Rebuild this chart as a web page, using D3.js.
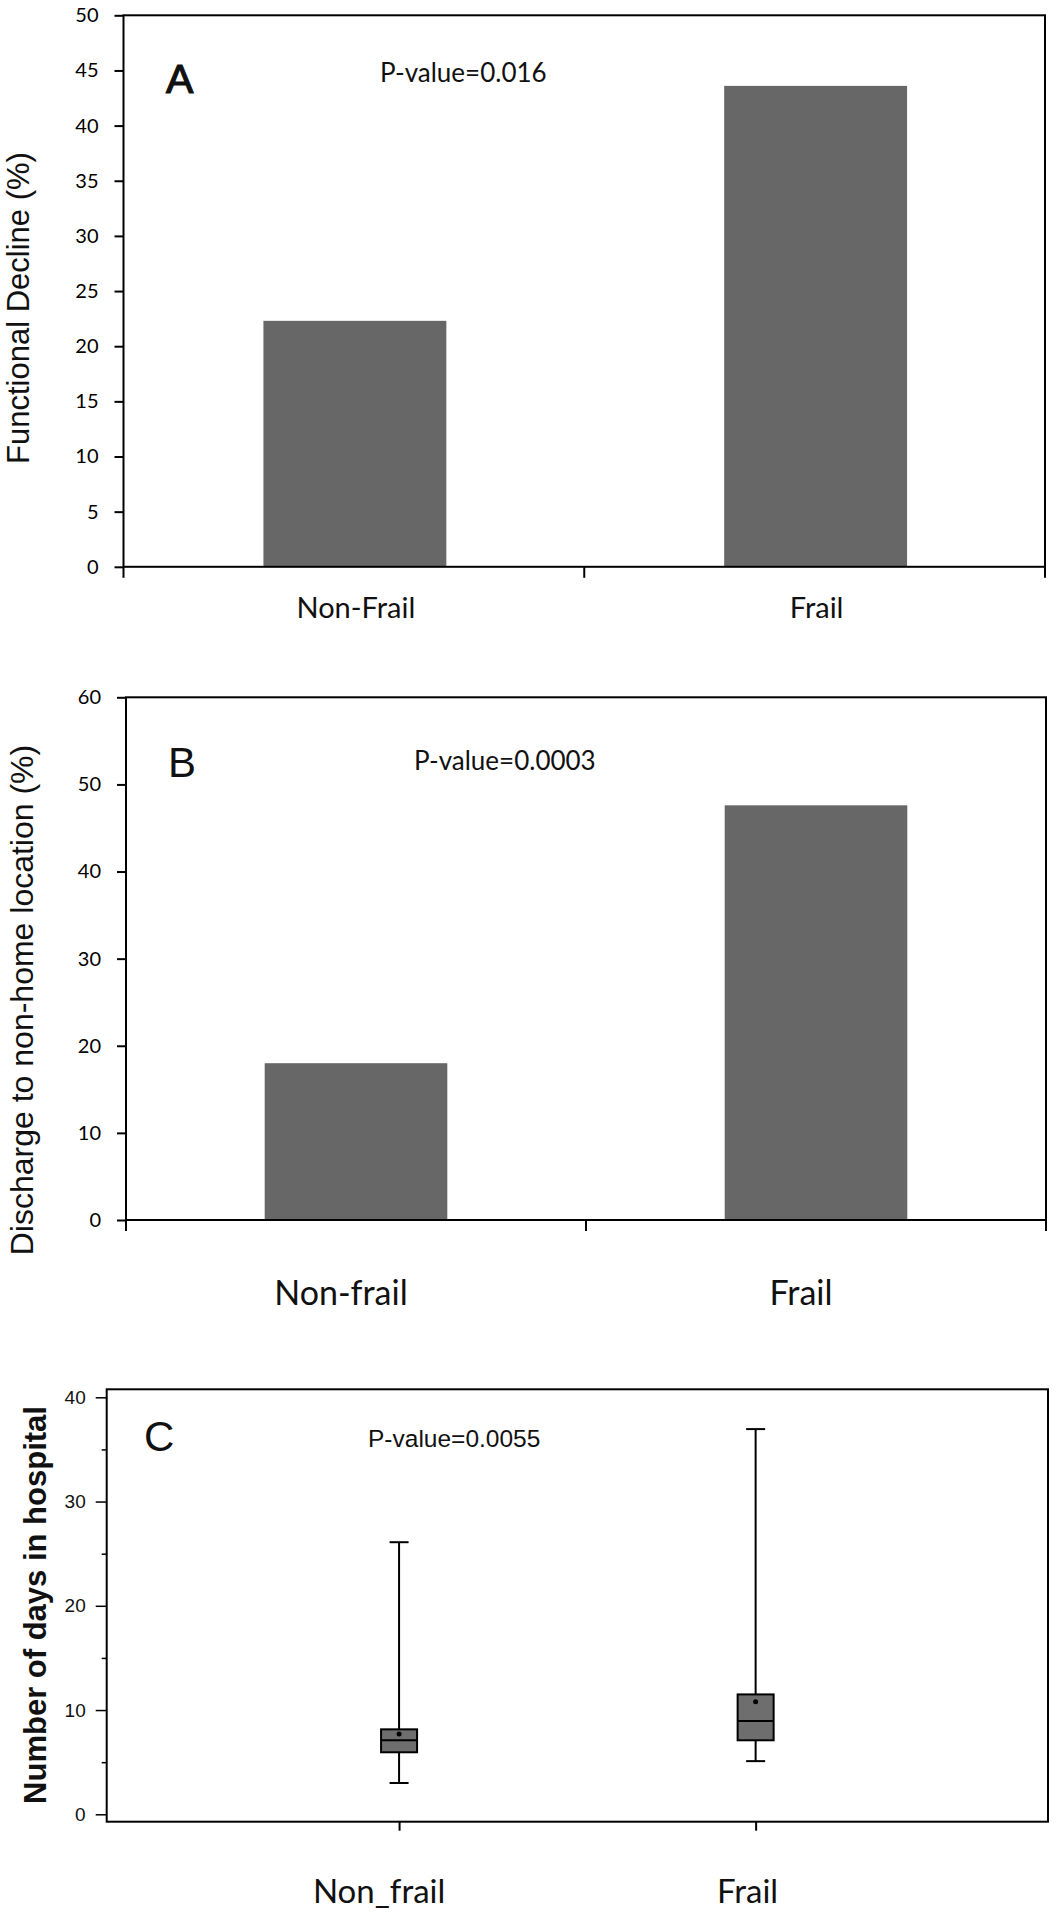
<!DOCTYPE html>
<html>
<head>
<meta charset="utf-8">
<script src="https://cdn.jsdelivr.net/npm/d3@7"></script>
<style>
  html, body { margin: 0; padding: 0; background: #fff; }
  svg { display: block; }
</style>
</head>
<body>
<svg id="chart" width="1060" height="1920"></svg>
<script>
// ---------- data ----------
const catsA = ["Non-Frail", "Frail"];
const valuesA = [22.3, 43.6];
const ticksA = [0, 5, 10, 15, 20, 25, 30, 35, 40, 45, 50];

const catsB = ["Non-frail", "Frail"];
const valuesB = [18.0, 47.6];
const ticksB = [0, 10, 20, 30, 40, 50, 60];

const catsC = ["Non_frail", "Frail"];
const minC = [3.0, 5.1];
const q1C = [5.95, 7.1];
const medianC = [7.1, 8.95];
const q3C = [8.15, 11.5];
const maxC = [26.1, 36.95];
const meanC = [7.7, 10.8];
const ticksC = [0, 10, 20, 30, 40];
const minorTicksC = [5, 15, 25, 35];

const pValues = ["P-value=0.016", "P-value=0.0003", "P-value=0.0055"];
const panelLetters = ["A", "B", "C"];
const yTitles = ["Functional Decline (%)", "Discharge to non-home location (%)", "Number of days in hospital"];

// ---------- style ----------
const CAL = "Lato, 'Open Sans', sans-serif";
const ARIAL = "'Liberation Sans', Arial, sans-serif";
const BAR = "#676767";
const labelShiftC = [-20, -8];

const svg = d3.select("#chart");

function frame(g, x0, x1, y0, y1) {
  g.append("rect").attr("x", x0).attr("y", y0).attr("width", x1 - x0).attr("height", y1 - y0)
    .attr("fill", "none").attr("stroke", "#000").attr("stroke-width", 2);
}

// ---------- Bar panel builder ----------
function barPanel(opts) {
  const g = svg.append("g");
  const y = d3.scaleLinear().domain(opts.domain).range([opts.yBottom, opts.yTop]);
  const x = d3.scaleBand().domain(opts.cats).range([opts.xLeft, opts.xRight]).padding(0);
  const bw = x.bandwidth() * 0.397;

  g.selectAll("rect.bar").data(opts.values).join("rect")
    .attr("class", "bar")
    .attr("x", (d, i) => x(opts.cats[i]) + x.bandwidth() / 2 - bw / 2 + opts.barShift)
    .attr("width", bw)
    .attr("y", d => y(d))
    .attr("height", d => y(0) - y(d))
    .attr("fill", BAR);

  frame(g, opts.xLeft, opts.xRight, opts.yTop, opts.yBottom);

  const ax = g.append("g").attr("transform", `translate(${opts.xLeft},0)`)
    .call(d3.axisLeft(y).tickValues(opts.ticks).tickSize(9).tickPadding(opts.tickPad).tickFormat(d3.format("d")));
  ax.select(".domain").remove();
  ax.selectAll("line").attr("stroke", "#000").attr("stroke-width", 2);
  ax.selectAll("text").attr("font-family", CAL).attr("font-size", opts.tickFont).attr("fill", "#000");

  // category boundary ticks
  const bounds = opts.cats.map(c => x(c)).concat([x(opts.cats[opts.cats.length - 1]) + x.bandwidth()]);
  g.selectAll("line.bt").data(bounds).join("line")
    .attr("x1", d => d).attr("x2", d => d)
    .attr("y1", opts.yBottom).attr("y2", opts.yBottom + 11)
    .attr("stroke", "#000").attr("stroke-width", 2);

  g.selectAll("text.cat").data(opts.cats).join("text")
    .attr("x", d => x(d) + x.bandwidth() / 2 + opts.labelDx)
    .attr("y", opts.labelY)
    .attr("text-anchor", "middle")
    .attr("font-family", CAL).attr("font-size", opts.labelFont).attr("fill", "#111")
    .text(d => d);

  g.append("text").attr("x", opts.letterX).attr("y", opts.letterY)
    .attr("font-family", ARIAL)
    .attr("font-size", opts.letterSize).attr("fill", "#111")
    .attr("stroke", "#111").attr("stroke-width", opts.letterStroke)
    .text(opts.letter);
  g.append("text").attr("x", opts.pX).attr("y", opts.pY)
    .attr("font-family", CAL).attr("font-size", 26).attr("fill", "#111").text(opts.pText);

  g.append("text")
    .attr("transform", `translate(${opts.titleX},${opts.titleY}) rotate(-90)`)
    .attr("text-anchor", "middle")
    .attr("font-family", ARIAL).attr("font-size", opts.titleFont).attr("fill", "#111")
    .text(opts.title);
}

barPanel({
  cats: catsA, values: valuesA, ticks: ticksA, domain: [0, 50],
  xLeft: 123.5, xRight: 1045, yTop: 15.3, yBottom: 566.8,
  barShift: 1, tickPad: 16, tickFont: 20,
  labelDx: 2, labelY: 618, labelFont: 29,
  letter: panelLetters[0], letterX: 166, letterY: 93, letterStroke: 1.2, letterSize: 41,
  pText: pValues[0], pX: 380, pY: 82,
  title: yTitles[0], titleX: 29, titleY: 308, titleFont: 31
});

barPanel({
  cats: catsB, values: valuesB, ticks: ticksB, domain: [0, 60],
  xLeft: 126, xRight: 1046, yTop: 697.3, yBottom: 1220,
  barShift: 0, tickPad: 16, tickFont: 20,
  labelDx: -15, labelY: 1305, labelFont: 34,
  letter: panelLetters[1], letterX: 168, letterY: 777, letterStroke: 0, letterSize: 42,
  pText: pValues[1], pX: 414, pY: 770,
  title: yTitles[1], titleX: 33, titleY: 1000, titleFont: 32
});

// ---------- Box panel ----------
(function () {
  const g = svg.append("g");
  const xL = 106.7, xR = 1048, yT = 1389.3, yB = 1821.7;
  const y = d3.scaleLinear().domain([0, 40]).range([1814.3, 1397.3]);
  const x = d3.scalePoint().domain(catsC).range([xL, xR]).padding(0.82);
  const boxW = 36, capW = 19;

  frame(g, xL, xR, yT, yB);

  const ax = g.append("g").attr("transform", `translate(${xL},0)`)
    .call(d3.axisLeft(y).tickValues(ticksC).tickSize(11).tickPadding(10).tickFormat(d3.format("d")));
  ax.select(".domain").remove();
  ax.selectAll("line").attr("stroke", "#000").attr("stroke-width", 1.5);
  ax.selectAll("text").attr("font-family", ARIAL).attr("font-size", 19).attr("fill", "#111");

  const axm = g.append("g").attr("transform", `translate(${xL},0)`)
    .call(d3.axisLeft(y).tickValues(minorTicksC).tickSize(5).tickFormat(""));
  axm.select(".domain").remove();
  axm.selectAll("line").attr("stroke", "#000").attr("stroke-width", 1.5);

  const axb = g.append("g").attr("transform", `translate(0,${yB})`)
    .call(d3.axisBottom(x).tickSize(9).tickFormat(""));
  axb.select(".domain").remove();
  axb.selectAll("line").attr("stroke", "#000").attr("stroke-width", 2);

  const items = catsC.map((c, i) => ({ c, min: minC[i], q1: q1C[i], med: medianC[i], q3: q3C[i], max: maxC[i], mean: meanC[i] }));
  const b = g.selectAll("g.box").data(items).join("g").attr("class", "box");
  b.append("line").attr("x1", d => x(d.c)).attr("x2", d => x(d.c))
    .attr("y1", d => y(d.max)).attr("y2", d => y(d.min)).attr("stroke", "#000").attr("stroke-width", 2);
  b.append("line").attr("x1", d => x(d.c) - capW / 2).attr("x2", d => x(d.c) + capW / 2)
    .attr("y1", d => y(d.max)).attr("y2", d => y(d.max)).attr("stroke", "#000").attr("stroke-width", 2);
  b.append("line").attr("x1", d => x(d.c) - capW / 2).attr("x2", d => x(d.c) + capW / 2)
    .attr("y1", d => y(d.min)).attr("y2", d => y(d.min)).attr("stroke", "#000").attr("stroke-width", 2);
  b.append("rect").attr("x", d => x(d.c) - boxW / 2).attr("width", boxW)
    .attr("y", d => y(d.q3)).attr("height", d => y(d.q1) - y(d.q3))
    .attr("fill", "#6e6e6e").attr("stroke", "#000").attr("stroke-width", 2);
  b.append("line").attr("x1", d => x(d.c) - boxW / 2).attr("x2", d => x(d.c) + boxW / 2)
    .attr("y1", d => y(d.med)).attr("y2", d => y(d.med)).attr("stroke", "#000").attr("stroke-width", 2);
  b.append("circle").attr("cx", d => x(d.c)).attr("cy", d => y(d.mean)).attr("r", 2.5).attr("fill", "#000");

  g.selectAll("text.cat").data(catsC).join("text")
    .attr("x", (d, i) => x(d) + labelShiftC[i])
    .attr("y", 1903)
    .attr("text-anchor", "middle")
    .attr("font-family", CAL).attr("font-size", 33).attr("fill", "#111")
    .text(d => d);

  g.append("text").attr("x", 144).attr("y", 1450.5)
    .attr("font-family", ARIAL).attr("font-size", 42).attr("fill", "#111").text(panelLetters[2]);
  g.append("text").attr("x", 368).attr("y", 1446.5)
    .attr("font-family", ARIAL).attr("font-size", 24.5).attr("fill", "#111").text(pValues[2]);
  g.append("text")
    .attr("transform", `translate(46,1605) rotate(-90)`)
    .attr("text-anchor", "middle")
    .attr("font-family", ARIAL).attr("font-weight", "bold").attr("font-size", 31).attr("fill", "#111")
    .text(yTitles[2]);
})();
</script>
</body>
</html>
